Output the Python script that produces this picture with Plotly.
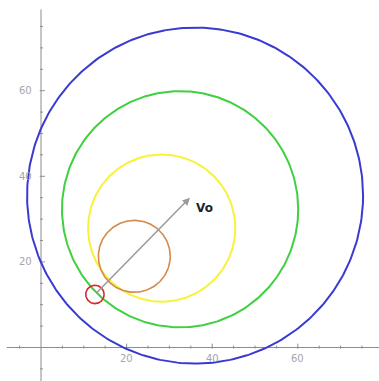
import numpy as np
import plotly.graph_objects as go

# Circles: centre x, centre y, radius, colour, line width
circle_cx = [36.0, 32.5, 28.2, 21.8, 12.6]
circle_cy = [35.5, 32.3, 27.9, 21.3, 12.4]
circle_r = [39.25, 27.6, 17.2, 8.4, 2.15]
circle_color = ["#3a3ad2", "#3fd03f", "#f7f23a", "#d58a4a", "#d42a2a"]
circle_width = [2.0, 2.0, 2.0, 1.6, 1.6]

# Velocity vector from the small circle's centre
vec_start = (12.6, 12.4)
vec_end = (34.8, 35.0)
vec_label = "Vo"
vec_label_pos = (38.2, 32.6)

# Axes
x_span = (-8.0, 80.0)
y_span = (-9.0, 79.0)
minor_ticks_x = [-5, 5, 10, 15, 25, 30, 35, 45, 50, 55, 65, 70, 75]
major_ticks_x = [20, 40, 60]
minor_ticks_y = [-5, 5, 10, 15, 25, 30, 35, 45, 50, 55, 65, 70, 75]
major_ticks_y = [20, 40, 60]

W, H = 379, 381
px_per_unit = 4.28
origin_px = (41.0, 347.5)
x_range = [-origin_px[0] / px_per_unit, (W - origin_px[0]) / px_per_unit]
y_range = [-(H - origin_px[1]) / px_per_unit, origin_px[1] / px_per_unit]

fig = go.Figure()

axis_color = "#8c8c8c"
# axis lines
fig.add_trace(go.Scatter(x=[x_span[0], x_span[1]], y=[0, 0], mode="lines",
                         line=dict(color=axis_color, width=1), hoverinfo="skip"))
fig.add_trace(go.Scatter(x=[0, 0], y=[y_span[0], y_span[1]], mode="lines",
                         line=dict(color=axis_color, width=1), hoverinfo="skip"))

# tick marks
def tick_segments_x(vals, up, down):
    xs, ys = [], []
    for v in vals:
        xs += [v, v, None]
        ys += [-down, up, None]
    return xs, ys

def tick_segments_y(vals, right, left):
    xs, ys = [], []
    for v in vals:
        xs += [-left, right, None]
        ys += [v, v, None]
    return xs, ys

for xs, ys in [tick_segments_x(minor_ticks_x, 0.45, 0.25),
               tick_segments_x(major_ticks_x, 0.9, 0.3),
               tick_segments_y(minor_ticks_y, 0.45, 0.25),
               tick_segments_y(major_ticks_y, 0.9, 0.3)]:
    fig.add_trace(go.Scatter(x=xs, y=ys, mode="lines",
                             line=dict(color=axis_color, width=1), hoverinfo="skip"))

# circles
t = np.linspace(0, 2 * np.pi, 361)
for cx, cy, r, c, w in zip(circle_cx, circle_cy, circle_r, circle_color, circle_width):
    fig.add_trace(go.Scatter(x=cx + r * np.cos(t), y=cy + r * np.sin(t), mode="lines",
                             line=dict(color=c, width=w), hoverinfo="skip"))

annotations = []
# tick labels
lab_font = dict(family="DejaVu Sans", size=10, color="#a6a6a6")
for v in major_ticks_x:
    annotations.append(dict(x=v, y=0, xref="x", yref="y", text=str(v), showarrow=False,
                            xanchor="center", yanchor="top", yshift=-3, font=lab_font))
for v in major_ticks_y:
    annotations.append(dict(x=0, y=v, xref="x", yref="y", text=str(v), showarrow=False,
                            xanchor="right", yanchor="middle", xshift=-7, font=lab_font))

# vector arrow
annotations.append(dict(x=vec_end[0], y=vec_end[1], ax=vec_start[0], ay=vec_start[1],
                        xref="x", yref="y", axref="x", ayref="y", text="",
                        showarrow=True, arrowhead=2, arrowsize=1.0, arrowwidth=1.5,
                        arrowcolor="#9a9a9a"))
annotations.append(dict(x=vec_label_pos[0], y=vec_label_pos[1], xref="x", yref="y",
                        text="<b>" + vec_label + "</b>", showarrow=False,
                        xanchor="center", yanchor="middle",
                        font=dict(family="DejaVu Sans", size=12, color="#222222")))

fig.update_layout(
    width=W, height=H,
    margin=dict(l=0, r=0, t=0, b=0),
    paper_bgcolor="white", plot_bgcolor="white",
    showlegend=False,
    xaxis=dict(range=x_range, visible=False, showgrid=False, zeroline=False),
    yaxis=dict(range=y_range, visible=False, showgrid=False, zeroline=False),
    annotations=annotations,
)

fig.write_html("out.html")
